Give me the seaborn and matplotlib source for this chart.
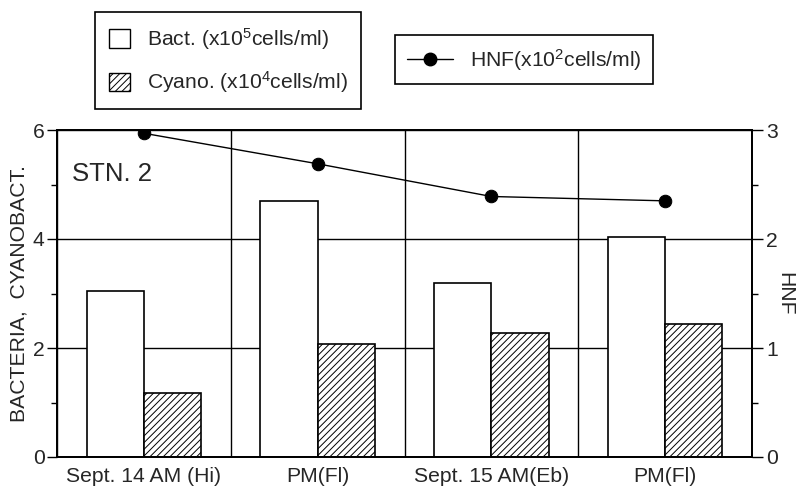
import matplotlib
matplotlib.use('Agg')
import matplotlib.pyplot as plt
from matplotlib.patches import Patch
from matplotlib.lines import Line2D
import seaborn as sns
import pandas as pd
import numpy as np

# sampling times (unique keys) and the labels printed under them
times = ['14 AM', '14 PM', '15 AM', '15 PM']
time_labels = ['Sept. 14 AM (Hi)', 'PM(Fl)', 'Sept. 15 AM(Eb)', 'PM(Fl)']

bact = [3.05, 4.69, 3.20, 4.04]    # x10^5 cells/ml (left axis)
cyano = [1.18, 2.08, 2.27, 2.44]   # x10^4 cells/ml (left axis)
hnf = [2.97, 2.69, 2.39, 2.35]     # x10^2 cells/ml (right axis)

series = ['Bact', 'Cyano']
legend_bars = ['Bact. (x10$^5$cells/ml)', 'Cyano. (x10$^4$cells/ml)']
legend_line = 'HNF(x10$^2$cells/ml)'

df = pd.DataFrame({'time': times * 2,
                   'value': bact + cyano,
                   'series': [series[0]] * 4 + [series[1]] * 4})

sns.set_style('white')
plt.rcParams['font.family'] = ['Liberation Sans', 'DejaVu Sans']
plt.rcParams['mathtext.default'] = 'regular'
plt.rcParams['hatch.linewidth'] = 0.7
FS = 15.2

fig = plt.figure(figsize=(8.05, 4.91), dpi=100)
ax = fig.add_axes([57 / 805, 1 - 457 / 491, (752 - 57) / 805, (457 - 130) / 491])

sns.barplot(data=df, x='time', y='value', hue='series', order=times,
            hue_order=series, palette=['white', 'white'], saturation=1,
            width=0.66, gap=0, edgecolor='black', linewidth=1.2,
            legend=False, ax=ax)
for bar in ax.containers[1]:
    bar.set_hatch('/////')

ax2 = ax.twinx()
sns.lineplot(x=np.arange(len(times)), y=hnf, ax=ax2, color='black',
             linewidth=1, marker='o', markersize=9,
             markeredgecolor='black', markerfacecolor='black')

# axes, ticks, grid
ax.set_xlim(-0.5, 3.5)
ax.set_ylim(0, 6)
ax2.set_ylim(0, 3)
ax.set_yticks([0, 2, 4, 6])
ax.set_yticks([1, 3, 5], minor=True)
ax2.set_yticks([0, 1, 2, 3])
ax2.set_yticks([0.5, 1.5, 2.5], minor=True)
ax.set_xticks(range(len(times)))
ax.set_xticklabels(time_labels, fontsize=FS)
ax.set_xticks(np.arange(-0.5, len(times)), minor=True)
ax.tick_params(axis='x', which='major', length=0, pad=7)
ax.tick_params(axis='x', which='minor', length=8, width=1, direction='out', color='black')
ax.tick_params(axis='y', which='major', length=7, width=1, direction='out', labelsize=FS, color='black', pad=2)
ax.tick_params(axis='y', which='minor', length=4, width=1, direction='out', color='black')
ax2.tick_params(axis='y', which='major', length=8, width=1, direction='out', labelsize=FS, color='black', pad=2)
ax2.tick_params(axis='y', which='minor', length=4, width=1, direction='out', color='black')

ax.set_axisbelow(True)
ax.grid(axis='y', which='major', color='black', linewidth=1)
ax.grid(axis='x', which='minor', color='black', linewidth=1)
ax2.grid(False)

ax.set_xlabel('')
ax.set_ylabel('BACTERIA,  CYANOBACT.', fontsize=FS, labelpad=3)
ax2.set_ylabel('HNF', fontsize=FS, rotation=270, labelpad=12)

for a in (ax, ax2):
    for s in a.spines.values():
        s.set_color('black')
        s.set_linewidth(1.3)

ax.text(0.022, 0.845, 'STN. 2', transform=ax.transAxes, fontsize=18.5)

# legends above the plot
h_bars = [Patch(facecolor='white', edgecolor='black', linewidth=1),
          Patch(facecolor='white', edgecolor='black', linewidth=1, hatch='/////')]
leg1 = fig.legend(h_bars, legend_bars, loc='upper left',
                  bbox_to_anchor=(95 / 805, 1 - 12 / 491), borderaxespad=0,
                  fontsize=FS, frameon=True, fancybox=False, framealpha=1,
                  edgecolor='black', handlelength=1.0, handleheight=1.0,
                  handletextpad=0.8, labelspacing=0.85, borderpad=0.65)
leg1.get_frame().set_linewidth(1.2)

h_line = [Line2D([], [], color='black', linewidth=1, marker='o', markersize=9)]
leg2 = fig.legend(h_line, [legend_line], loc='upper left',
                  bbox_to_anchor=(395 / 805, 1 - 35 / 491), borderaxespad=0,
                  fontsize=FS, frameon=True, fancybox=False, framealpha=1,
                  edgecolor='black', handlelength=2.2, handletextpad=0.8,
                  borderpad=0.55)
leg2.get_frame().set_linewidth(1.2)

fig.savefig('out.png', dpi=100)
